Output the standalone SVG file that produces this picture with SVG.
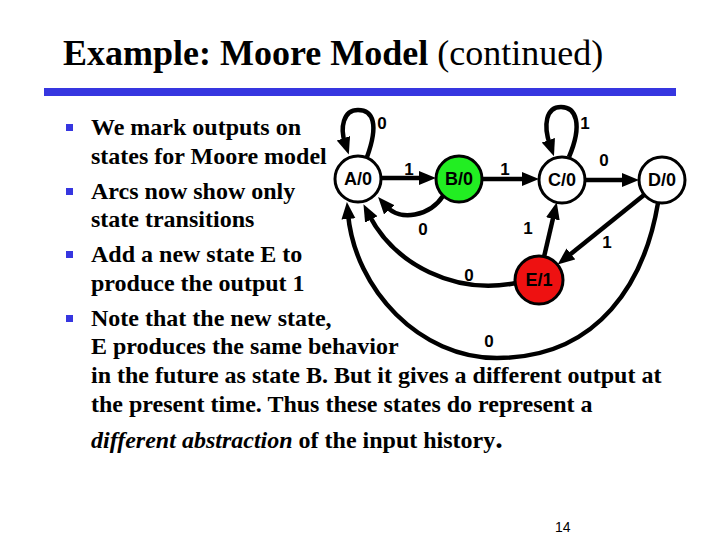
<svg xmlns="http://www.w3.org/2000/svg" width="720" height="540" viewBox="0 0 720 540">
<defs>
<marker id="ah" markerUnits="userSpaceOnUse" markerWidth="20" markerHeight="16" refX="5" refY="7" orient="auto">
<path d="M0,0 L17,7 L0,14 z" fill="#000"/>
</marker>
<style>
.t{font-family:"Liberation Serif","Times New Roman",serif;font-weight:bold;font-size:24px;fill:#000}
.n{fill:#fff;stroke:#000;stroke-width:3}
.nl{font-family:"Liberation Sans",Arial,sans-serif;font-weight:bold;font-size:18px;text-anchor:middle;fill:#000}
.el{font-family:"Liberation Sans",Arial,sans-serif;font-weight:bold;font-size:17px;text-anchor:middle;fill:#000}
.e{fill:none;stroke:#000;stroke-width:4.5;marker-end:url(#ah)}
.b{fill:#3636E0}
</style>
</defs>
<rect width="720" height="540" fill="#fff"/>
<g id="title">
<text x="63" y="65" font-family="'Liberation Serif','Times New Roman',serif" font-size="36" fill="#000"><tspan font-weight="bold">Example: Moore Model</tspan> (continued)</text>
<rect x="44" y="88" width="632" height="8" fill="#3636E0"/>
</g>
<g id="bullets">
<rect class="b" x="66" y="124" width="7" height="7"/>
<rect class="b" x="66" y="188" width="7" height="7"/>
<rect class="b" x="66" y="251" width="7" height="7"/>
<rect class="b" x="66" y="315" width="7" height="7"/>
<text class="t" x="91" y="135">We mark outputs on</text>
<text class="t" x="91" y="164">states for Moore model</text>
<text class="t" x="91" y="199">Arcs now show only</text>
<text class="t" x="91" y="227">state transitions</text>
<text class="t" x="91" y="262">Add a new state E to</text>
<text class="t" x="91" y="291">produce the output 1</text>
<text class="t" x="91" y="326">Note that the new state,</text>
<text class="t" x="91" y="354">E produces the same behavior</text>
<text class="t" x="91" y="383">in the future as state B. But it gives a different output at</text>
<text class="t" x="91" y="412">the present time. Thus these states do represent a</text>
<text class="t" x="91" y="448"><tspan font-style="italic">different abstraction</tspan> of the input history<tspan font-size="30">.</tspan></text>
</g>
<g id="connectors">
<path id="e-AA" class="e" d="M367,157 C379,124 373,110 358,110 C343,110 340,128 345,143"/>
<path id="e-AB" class="e" d="M381,178 L424,178"/>
<path id="e-BC" class="e" d="M482,179 L527,179"/>
<path id="e-CC" class="e" d="M569,157 C583,124 576,107 561,107 C546,107 543,125 550,145"/>
<path id="e-CD" class="e" d="M585,180 L627,180"/>
<path id="e-BA" class="e" d="M443,196 C430,216 400,222 386,206"/>
<path id="e-DE" class="e" d="M644,195 L567,257"/>
<path id="e-EC" class="e" d="M544,257 L554,214"/>
<path id="e-EA" class="e" d="M516,283 C455,295 395,265 369,215"/>
<path id="e-DA" class="e" d="M658,203 C645,280 600,358 497,358 C420,358 355,290 348,214"/>
<text class="el" x="382" y="129">0</text>
<text class="el" x="409" y="175">1</text>
<text class="el" x="505" y="175">1</text>
<text class="el" x="585" y="129">1</text>
<text class="el" x="604" y="166">0</text>
<text class="el" x="423" y="235">0</text>
<text class="el" x="528" y="234">1</text>
<text class="el" x="607" y="248">1</text>
<text class="el" x="469" y="281">0</text>
<text class="el" x="489" y="347">0</text>
</g>
<g id="node-A"><circle class="n" cx="358" cy="179" r="23"/><text class="nl" x="358" y="185">A/0</text></g>
<g id="node-B"><circle class="n" cx="459" cy="179" r="23" style="fill:#22EE22"/><text class="nl" x="459" y="185">B/0</text></g>
<g id="node-C"><circle class="n" cx="562" cy="180" r="23"/><text class="nl" x="562" y="186">C/0</text></g>
<g id="node-D"><circle class="n" cx="662" cy="180" r="23"/><text class="nl" x="662" y="186">D/0</text></g>
<g id="node-E"><circle class="n" cx="539" cy="280" r="24" style="fill:#EE1111"/><text class="nl" x="539" y="286">E/1</text></g>
<text id="page" x="555" y="532" font-family="'Liberation Sans',Arial,sans-serif" font-size="14" fill="#000">14</text>
</svg>
